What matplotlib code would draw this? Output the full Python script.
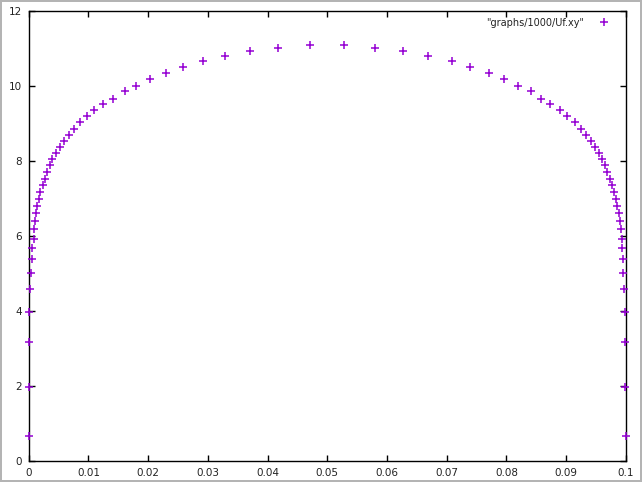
import numpy as np
import matplotlib
matplotlib.use("Agg")
import matplotlib.pyplot as plt

# profile, left half (wall -> centre) then right half (centre -> wall)
x_left = [0.00000, 0.00010, 0.00010, 0.00010, 0.00027, 0.00039, 0.00050, 0.00060,
          0.00084, 0.00094, 0.00111, 0.00127, 0.00144, 0.00178, 0.00194, 0.00235,
          0.00268, 0.00312, 0.00352, 0.00395, 0.00457, 0.00519, 0.00596, 0.00670,
          0.00764, 0.00864, 0.00982, 0.01099, 0.01250, 0.01417, 0.01605, 0.01802,
          0.02037, 0.02305, 0.02590, 0.02925, 0.03293, 0.03712, 0.04181, 0.04717]
y_left = [0.659, 1.981, 3.165, 3.981, 4.579, 5.021, 5.379, 5.672,
          5.928, 6.179, 6.413, 6.627, 6.813, 6.987, 7.173, 7.360,
          7.533, 7.707, 7.885, 8.053, 8.205, 8.373, 8.533, 8.685,
          8.860, 9.032, 9.192, 9.352, 9.512, 9.667, 9.859, 10.013,
          10.179, 10.341, 10.499, 10.659, 10.795, 10.925, 11.027, 11.085]
x_right = [0.05286, 0.05806, 0.06275, 0.06688, 0.07085, 0.07397, 0.07705, 0.07956,
           0.08191, 0.08402, 0.08586, 0.08732, 0.08888, 0.09017, 0.09139, 0.09251,
           0.09330, 0.09419, 0.09486, 0.09548, 0.09591, 0.09642, 0.09687, 0.09725,
           0.09759, 0.09792, 0.09826, 0.09849, 0.09879, 0.09899, 0.09913, 0.09926,
           0.09938, 0.09946, 0.09955, 0.09972, 0.09980, 0.09988, 0.09990, 0.10000]
y_right = [11.085, 11.027, 10.925, 10.795, 10.659, 10.499, 10.341, 10.179,
           10.013, 9.859, 9.667, 9.512, 9.352, 9.192, 9.032, 8.860,
           8.685, 8.533, 8.373, 8.205, 8.053, 7.885, 7.707, 7.533,
           7.360, 7.173, 6.987, 6.813, 6.627, 6.413, 6.179, 5.928,
           5.672, 5.379, 5.021, 4.579, 3.981, 3.165, 1.981, 0.659]

xticks = [0, 0.01, 0.02, 0.03, 0.04, 0.05, 0.06, 0.07, 0.08, 0.09, 0.1]
xtick_labels = ["0", "0.01", "0.02", "0.03", "0.04", "0.05", "0.06", "0.07", "0.08", "0.09", "0.1"]
yticks = [0, 2, 4, 6, 8, 10, 12]
series_label = '"graphs/1000/Uf.xy"'

x = np.array(x_left + x_right)
y = np.array(y_left + y_right)

fig = plt.figure(figsize=(6.42, 4.82), dpi=100)
fig.patch.set_edgecolor("#b4b4b4")
fig.patch.set_linewidth(1.5)
ax = fig.add_axes([0.0447, 0.0436, 0.9303, 0.9334])

ax.plot(x, y, "+", color="#9400d3", markersize=6, markeredgewidth=1.1,
        linestyle="none", label=series_label, clip_on=False, zorder=3)

ax.set_xlim(0, 0.1)
ax.set_ylim(0, 12)
ax.set_xticks(xticks)
ax.set_xticklabels(xtick_labels)
ax.set_yticks(yticks)
ax.tick_params(direction="in", length=4, width=1, top=True, right=True,
               labelsize=7.5, colors="black", labelcolor="#222222", pad=5)
for s in ax.spines.values():
    s.set_linewidth(1)

leg = ax.legend(loc="upper right", bbox_to_anchor=(0.985, 1.0), frameon=False,
                markerfirst=False, fontsize=7, handlelength=1.2, handletextpad=1.5,
                borderaxespad=0.3, labelcolor="#222222")

fig.savefig("out.png", dpi=100)
